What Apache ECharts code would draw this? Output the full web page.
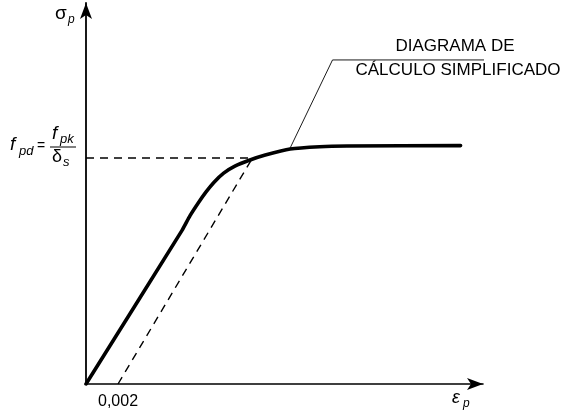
<!DOCTYPE html>
<html>
<head>
<meta charset="utf-8">
<script src="https://cdn.jsdelivr.net/npm/echarts@6/dist/echarts.min.js"></script>
<style>html,body{margin:0;padding:0;background:#fff}#c{width:573px;height:415px}</style>
</head>
<body>
<div id="c"></div>
<script>
// strain in per mille (x), stress as fraction of f_pd (y)
var designCurve = [[0,0],[6.0,0.68],[6.5,0.745],[7.0,0.80],[7.5,0.85],[8.0,0.893],[8.6,0.933],[9.3,0.964],[10.2,0.99],[11.2,1.013],[12.75,1.04],[14.6,1.05],[16.3,1.053],[23.4,1.055]];
var fpdLine = [[0,1],[10.4,1]];
var elasticOffset = [[2,0],[10.4,1]];
var leader = [[12.75,1.044],[15.4,1.434],[30.5,1.434]];
var xTickValues = [2];
var xTickLabels = {2: '0,002'};

var chart = echarts.init(document.getElementById('c'));
var font = 'Liberation Sans, Arial, sans-serif';
chart.setOption({
  animation: false,
  grid: {left: 86, top: 3, right: 90, bottom: 31},
  xAxis: {
    type: 'value', min: 0, max: 24.8,
    axisLine: {onZero: true, lineStyle: {color: '#000', width: 1.6}, symbol: ['none','arrow'], symbolSize: [9,16]},
    axisTick: {show: false}, splitLine: {show: false},
    axisLabel: {customValues: xTickValues, formatter: function(v){return xTickLabels[v] || '';}, color: '#000', fontSize: 16, fontFamily: font, margin: 10}
  },
  yAxis: {
    type: 'value', min: 0, max: 1.686,
    axisLine: {lineStyle: {color: '#000', width: 1.8}, symbol: ['none','arrow'], symbolSize: [9,16]},
    axisTick: {show: false}, splitLine: {show: false}, axisLabel: {show: false}
  },
  series: [
    {type: 'line', data: fpdLine, symbol: 'none', lineStyle: {color: '#000', width: 1.4, type: [8,6]}},
    {type: 'line', data: elasticOffset, symbol: 'none', lineStyle: {color: '#000', width: 1.4, type: [8,6]}},
    {type: 'line', data: leader, symbol: 'none', clip: false, lineStyle: {color: '#000', width: 0.9}},
    {type: 'line', data: designCurve, symbol: 'none', smooth: 0.2, lineStyle: {color: '#000', width: 3.6, cap: 'round', join: 'round'}}
  ],
  graphic: [
    {type: 'text', left: 55, top: 4, style: {text: 'σ', font: '19px ' + font, fill: '#000'}},
    {type: 'text', left: 68, top: 14, style: {text: 'p', font: 'italic 12px ' + font, fill: '#000'}},
    {type: 'text', left: 452, top: 389, style: {text: 'ε', font: 'italic 18px ' + font, fill: '#000'}},
    {type: 'text', left: 463, top: 398, style: {text: 'p', font: 'italic 12px ' + font, fill: '#000'}},
    {type: 'text', left: 10, top: 135, style: {text: 'f', font: 'italic 19px ' + font, fill: '#000'}},
    {type: 'text', left: 19, top: 145, style: {text: 'pd', font: 'italic 13px ' + font, fill: '#000'}},
    {type: 'text', left: 37, top: 139, style: {text: '=', font: '14px ' + font, fill: '#000'}},
    {type: 'text', left: 52, top: 124, style: {text: 'f', font: 'italic 19px ' + font, fill: '#000'}},
    {type: 'text', left: 60, top: 133, style: {text: 'pk', font: 'italic 13px ' + font, fill: '#000'}},
    {type: 'line', shape: {x1: 50, y1: 147, x2: 76, y2: 147}, style: {stroke: '#000', lineWidth: 1}},
    {type: 'text', left: 52, top: 148, style: {text: 'δ', font: '18px ' + font, fill: '#000'}},
    {type: 'text', left: 63, top: 156, style: {text: 's', font: 'italic 13px ' + font, fill: '#000'}},
    {type: 'text', x: 455, y: 46, style: {text: 'DIAGRAMA DE', font: '17px ' + font, fill: '#000', textAlign: 'center', textVerticalAlign: 'middle'}},
    {type: 'text', x: 458, y: 70, style: {text: 'CÁLCULO SIMPLIFICADO', font: '17px ' + font, fill: '#000', textAlign: 'center', textVerticalAlign: 'middle'}}
  ]
});
</script>
</body>
</html>
